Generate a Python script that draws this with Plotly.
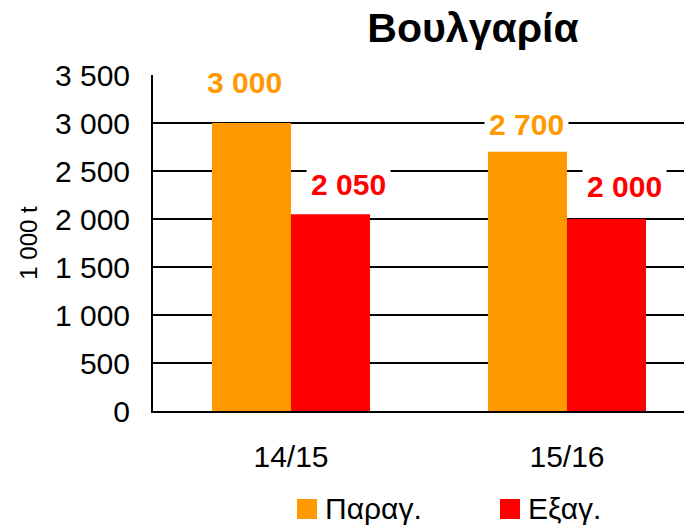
import plotly.graph_objects as go

categories = ["14/15", "15/16"]
series_names = ["Παραγ.", "Εξαγ."]
production = [3000, 2700]
exports = [2050, 2000]
value_labels_prod = ["3 000", "2 700"]
value_labels_exp = ["2 050", "2 000"]
y_tickvals = [0, 500, 1000, 1500, 2000, 2500, 3000, 3500]
y_ticktext = ["0", "500", "1 000", "1 500", "2 000", "2 500", "3 000", "3 500"]

ORANGE = "#FF9900"
RED = "#FF0000"
FONT = "Liberation Sans, Arial, sans-serif"

fig = go.Figure()
fig.add_trace(go.Bar(x=categories, y=production, name=series_names[0],
                     marker=dict(color=ORANGE, line=dict(width=0))))
fig.add_trace(go.Bar(x=categories, y=exports, name=series_names[1],
                     marker=dict(color=RED, line=dict(width=0))))

# value label offsets (px) relative to category center / bar top
prod_shift = [(-47, 41), (-41, 27)]
exp_shift = [(57, 30), (57, 33)]
anns = []
for i, c in enumerate(categories):
    anns.append(dict(x=c, y=production[i], text=value_labels_prod[i],
                     xshift=prod_shift[i][0], yshift=prod_shift[i][1],
                     showarrow=False, bgcolor="white", borderpad=4,
                     font=dict(family=FONT, size=30, color=ORANGE, weight="bold"),
                     xanchor="center", yanchor="middle"))
    anns.append(dict(x=c, y=exports[i], text=value_labels_exp[i],
                     xshift=exp_shift[i][0], yshift=exp_shift[i][1],
                     showarrow=False, bgcolor="white", borderpad=4,
                     font=dict(family=FONT, size=30, color=RED, weight="bold"),
                     xanchor="center", yanchor="middle"))

# manual legend
PW, PH = 531.0, 336.0
def px_x(p):
    return (p - 153) / PW
def px_y(p):
    return (411 - p) / PH

shapes = [
    dict(type="rect", xref="paper", yref="paper", x0=px_x(297), x1=px_x(317),
         y0=px_y(519), y1=px_y(499), fillcolor=ORANGE, line=dict(width=0)),
    dict(type="rect", xref="paper", yref="paper", x0=px_x(500), x1=px_x(520),
         y0=px_y(519), y1=px_y(499), fillcolor=RED, line=dict(width=0)),
]
anns.append(dict(xref="paper", yref="paper", x=px_x(323), y=px_y(508),
                 text=series_names[0], showarrow=False, xanchor="left", yanchor="middle",
                 font=dict(family=FONT, size=30, color="black")))
anns.append(dict(xref="paper", yref="paper", x=px_x(526), y=px_y(508),
                 text=series_names[1], showarrow=False, xanchor="left", yanchor="middle",
                 font=dict(family=FONT, size=30, color="black")))

fig.update_layout(
    width=684, height=525,
    margin=dict(l=153, r=0, t=75, b=114),
    paper_bgcolor="white", plot_bgcolor="white",
    barmode="group", bargap=0.4275, bargroupgap=0,
    showlegend=False,
    title=dict(text="<b>Βουλγαρία</b>", x=473/684, xanchor="center",
               y=1 - 28/525, yanchor="middle", xref="container", yref="container",
               font=dict(family=FONT, size=41, color="black")),
    font=dict(family=FONT, color="black"),
    annotations=anns,
    shapes=shapes,
)
fig.update_xaxes(range=[-0.5, -0.5 + 531/276], showline=True, linecolor="black",
                 linewidth=2, ticks="", showgrid=False, ticklabelstandoff=18,
                 tickfont=dict(family=FONT, size=30, color="black"), fixedrange=True)
fig.update_yaxes(range=[0, 3500], tickvals=y_tickvals, ticktext=y_ticktext,
                 showline=True, linecolor="black", linewidth=2,
                 showgrid=True, gridcolor="black", gridwidth=2, zeroline=False,
                 ticks="", ticklabelstandoff=15,
                 tickfont=dict(family=FONT, size=30, color="black"),
                 title=dict(text="1 000 t", standoff=11,
                            font=dict(family=FONT, size=24, color="black")),
                 fixedrange=True)

fig.write_html("out.html", config={"displayModeBar": False},
               post_script="document.body.style.margin='0';document.body.style.padding='0';")
